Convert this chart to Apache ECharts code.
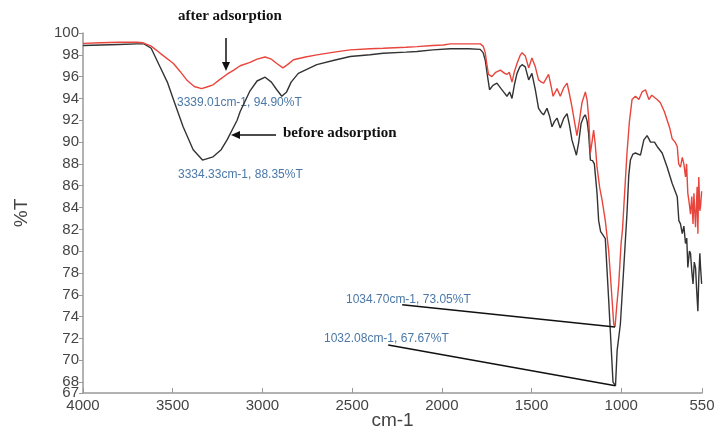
<!DOCTYPE html>
<html><head><meta charset="utf-8">
<script src="https://cdn.jsdelivr.net/npm/echarts@6/dist/echarts.min.js"></script>
<style>html,body{margin:0;padding:0;background:#fff}#c{width:715px;height:428px}</style>
</head><body><div id="c"></div>
<script>
// ---- data ----
const xTicks = [4000, 3500, 3000, 2500, 2000, 1500, 1000, 550];
const yTicks = [68, 70, 72, 74, 76, 78, 80, 82, 84, 86, 88, 90, 92, 94, 96, 98, 100];
const yMinTick = [67];

const beforeWn = [4000,3900,3800,3700,3660,3620,3571,3530,3496,3442,3386,3334,3275,3230,3197,3141,3124,3069,3030,2985,2950,2920,2892,2865,2840,2800,2697,2600,2511,2400,2327,2200,2139,2050,1953,1850,1786,1770,1758,1745,1734,1715,1693,1670,1656,1637,1622,1609,1595,1581,1565,1553,1535,1516,1498,1479,1461,1445,1433,1414,1400,1386,1372,1358,1340,1320,1302,1288,1275,1250,1237,1224,1210,1200,1190,1182,1172,1160,1150,1135,1126,1115,1107,1089,1070,1046,1032.08,1023,1005,986,968,958,949,935,921,893,874,856,846,837,815,800,772,744,716,688,679,670,660,651,642,635,629,620,614,607,600,593,586,580,573,568,562,558,552];
const beforeT = [98.85,98.9,98.95,99.0,99.0,98.6,96.9,95.5,93.9,91.4,89.3,88.35,88.65,89.3,90.2,92.0,92.8,94.7,95.6,95.95,95.5,94.8,94.2,94.6,95.5,96.3,97.1,97.5,97.85,98.0,98.15,98.25,98.3,98.45,98.55,98.55,98.5,98.2,97.5,96.0,94.8,95.2,95.4,94.9,94.6,94.2,94.6,94.0,95.3,96.3,96.9,97.1,96.9,95.7,96.3,94.8,93.1,92.7,92.5,93.1,92.4,91.4,91.9,92.2,91.3,92.2,92.6,91.5,90.2,88.8,90.0,91.7,92.3,92.5,91.9,90.8,88.35,88.3,88.0,85.3,82.8,81.8,81.6,81.15,75.5,68.0,67.67,70.9,73.3,78.5,83.5,87.0,88.35,88.9,89.0,88.8,90.2,90.6,90.3,90.0,90.0,89.6,89.0,87.7,86.2,85.0,82.8,82.5,81.6,82.3,80.7,81.2,78.5,80.0,79.8,78.2,77.0,79.0,78.5,76.5,74.5,77.5,79.8,78.5,77.0];

const afterWn = [4000,3900,3800,3700,3665,3620,3571,3496,3460,3422,3380,3339.01,3310,3275,3240,3199,3160,3124,3069,3030,2985,2950,2920,2886,2860,2827,2760,2697,2600,2511,2400,2327,2200,2139,2050,1992,1953,1850,1786,1770,1758,1748,1740,1721,1700,1674,1650,1637,1624,1609,1595,1581,1565,1553,1535,1516,1498,1479,1461,1445,1433,1405,1392,1380,1358,1340,1320,1302,1290,1275,1260,1247,1233,1219,1200,1190,1182,1172,1163,1154,1145,1135,1120,1107,1089,1070,1051,1042,1034.70,1025,1014,1001,993,986,977,968,955,940,921,902,884,865,846,830,819,800,782,760,744,730,716,700,688,680,670,660,651,642,636,629,622,614,607,600,595,586,577,573,568,562,558,552];
const afterT = [99.05,99.1,99.15,99.15,99.1,98.8,98.16,97.2,96.5,95.7,95.1,94.9,95.05,95.25,95.7,96.2,96.6,97.0,97.3,97.6,97.8,97.6,97.2,96.8,97.1,97.55,97.8,98.0,98.25,98.45,98.55,98.6,98.7,98.75,98.85,98.9,99.0,99.0,99.0,98.8,98.2,97.0,96.2,96.0,96.4,96.6,96.3,96.2,96.4,95.5,96.5,97.2,97.9,98.2,97.9,96.8,97.7,96.9,95.7,95.5,95.4,96.2,95.2,94.2,94.9,94.2,95.0,95.4,94.5,93.25,91.8,90.6,92.0,93.6,94.6,93.8,92.3,89.0,90.0,91.1,89.8,87.7,85.8,84.7,82.8,80.0,75.5,73.3,73.05,75.0,77.0,80.7,82.0,84.0,86.5,89.0,91.8,93.9,94.2,93.9,94.6,94.8,93.9,94.3,94.2,93.9,93.6,92.8,92.0,91.3,90.3,90.0,89.6,88.0,87.7,88.6,88.0,86.8,88.0,85.3,84.5,83.4,85.0,82.5,85.3,82.2,85.9,81.6,86.8,83.7,84.1,85.5];

// peak annotations
const peakLabels = ['3339.01cm-1, 94.90%T', '3334.33cm-1, 88.35%T', '1034.70cm-1, 73.05%T', '1032.08cm-1, 67.67%T'];
const leaderPeaks = [[1034.70, 73.05], [1032.08, 67.67]];
const leaderStarts = [[2221, 75.1], [2299, 71.4]];

// ---- chart ----
const zip = (a, b) => a.map((v, i) => [v, b[i]]);
const blue = '#4a78a8';
const labelFont = { fontFamily: 'Liberation Sans', fontSize: 15, color: '#444' };
const chart = echarts.init(document.getElementById('c'));
chart.setOption({
  animation: false,
  backgroundColor: '#fff',
  grid: { left: 83, right: 13, top: 33, bottom: 35, containLabel: false, outerBoundsMode: 'none' },
  xAxis: {
    type: 'value', inverse: true, min: 550, max: 4000,
    name: 'cm-1', nameLocation: 'middle', nameGap: 18, nameMoveOverlap: false,
    nameTextStyle: { fontFamily: 'Liberation Sans', fontSize: 19, color: '#444', verticalAlign: 'top' },
    axisLine: { lineStyle: { color: '#999', width: 1.5 } },
    axisTick: { inside: true, length: 5, lineStyle: { color: '#999' }, customValues: xTicks },
    axisLabel: Object.assign({ customValues: xTicks, margin: 5, hideOverlap: false, formatter: v => String(v) }, labelFont),
    splitLine: { show: false }
  },
  yAxis: [
    {
      type: 'value', min: 67, max: 100,
      name: '%T', nameLocation: 'middle', nameGap: 52, nameRotate: 90, nameMoveOverlap: false,
      nameTextStyle: { fontFamily: 'Liberation Sans', fontSize: 19, color: '#444' },
      axisLine: { show: true, lineStyle: { color: '#999', width: 1.5 } },
      axisTick: { show: true, length: 4, lineStyle: { color: '#999' }, customValues: yTicks },
      axisLabel: Object.assign({ customValues: yTicks, margin: 4, hideOverlap: false, formatter: v => String(v) }, labelFont),
      splitLine: { show: false }
    },
    {
      type: 'value', min: 67, max: 100, position: 'left',
      axisLine: { show: false },
      axisTick: { show: true, length: 4, lineStyle: { color: '#999' }, customValues: yMinTick },
      axisLabel: Object.assign({ customValues: yMinTick, margin: 4, hideOverlap: false, formatter: v => String(v) }, labelFont),
      splitLine: { show: false }
    }
  ],
  series: [
    {
      type: 'line', name: 'before adsorption', data: zip(beforeWn, beforeT),
      showSymbol: false, symbol: 'none', lineStyle: { color: '#333', width: 1.4 }, z: 3,
      markLine: {
        silent: true, symbol: 'none', label: { show: false },
        lineStyle: { color: '#111', width: 1.5, type: 'solid' },
        data: leaderStarts.map((s, i) => [{ coord: s }, { coord: leaderPeaks[i] }])
      }
    },
    {
      type: 'line', name: 'after adsorption', data: zip(afterWn, afterT),
      showSymbol: false, symbol: 'none', lineStyle: { color: '#e8453c', width: 1.4 }, z: 4
    }
  ],
  graphic: [
    { type: 'text', left: 178, top: 9, style: { text: 'after adsorption', font: 'bold 15px "Liberation Serif"', fill: '#111' } },
    { type: 'line', shape: { x1: 226, y1: 38, x2: 226, y2: 64 }, style: { stroke: '#111', lineWidth: 1.5 } },
    { type: 'polygon', shape: { points: [[222, 62], [230, 62], [226, 71]] }, style: { fill: '#111' } },
    { type: 'text', left: 283, top: 126, style: { text: 'before adsorption', font: 'bold 15px "Liberation Serif"', fill: '#111' } },
    { type: 'line', shape: { x1: 276, y1: 135, x2: 238, y2: 135 }, style: { stroke: '#111', lineWidth: 1.5 } },
    { type: 'polygon', shape: { points: [[240, 131], [240, 139], [231, 135]] }, style: { fill: '#111' } },
    { type: 'text', left: 177, top: 97, style: { text: peakLabels[0], font: '12px "Liberation Sans"', fill: blue } },
    { type: 'text', left: 178, top: 169, style: { text: peakLabels[1], font: '12px "Liberation Sans"', fill: blue } },
    { type: 'text', left: 346, top: 294, style: { text: peakLabels[2], font: '12px "Liberation Sans"', fill: blue } },
    { type: 'text', left: 324, top: 333, style: { text: peakLabels[3], font: '12px "Liberation Sans"', fill: blue } }
  ]
});
</script></body></html>
